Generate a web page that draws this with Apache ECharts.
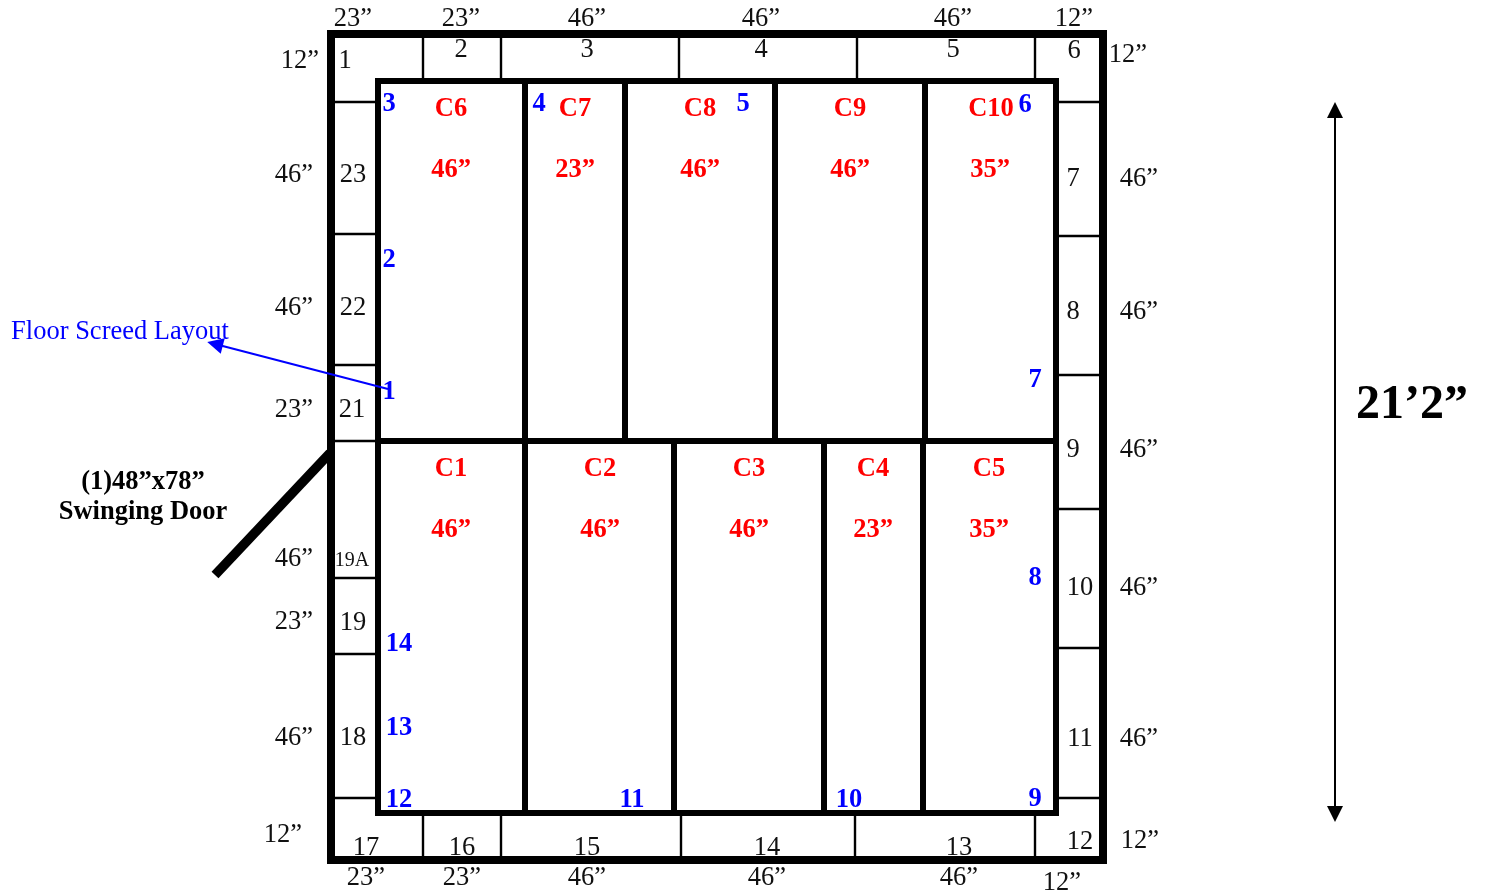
<!DOCTYPE html>
<html><head><meta charset="utf-8">
<style>html,body{margin:0;padding:0;background:#fff}#c{width:1486px;height:894px}</style>
<script src="https://cdn.jsdelivr.net/npm/echarts@6/dist/echarts.min.js"></script>
</head><body><div id="c"></div>
<script>
// Segments: [x1, y1, x2, y2] in plan units
const outerWall = [[327,34,1107,34],[327,860,1107,860],[331,30,331,864],[1103,30,1103,864]];
const innerWall = [[375,81,1059,81],[375,813,1059,813],[378,78,378,816],[1056,78,1056,816],[378,441,1056,441],
  [525,81,525,441],[625,81,625,441],[775,81,775,441],[925,81,925,441],
  [525,441,525,813],[674,441,674,813],[824,441,824,813],[923,441,923,813]];
const thinLines = [[423,38,423,78],[501,38,501,78],[679,38,679,78],[857,38,857,78],[1035,38,1035,78],
  [335,102,375,102],[335,234,375,234],[335,365,375,365],[335,441,375,441],[335,578,375,578],[335,654,375,654],[335,798,375,798],
  [1059,102,1099,102],[1059,236,1099,236],[1059,375,1099,375],[1059,509,1099,509],[1059,648,1099,648],[1059,798,1099,798],
  [423,816,423,856],[501,816,501,856],[681,816,681,856],[855,816,855,856],[1035,816,1035,856]];
const doorLeaf = [[330,453,215,575]];
const heightArrow = [[1335,110,1335,814]];
const leaderArrow = [[388,389,215,344]];
// Text: [label, x, y]
const dimLabels = [["23”",353,19],["23”",461,19],["46”",587,19],["46”",761,19],["46”",953,19],["12”",1074,19],
  ["12”",300,61],["46”",294,175],["46”",294,308],["23”",294,410],["46”",294,559],["23”",294,622],["46”",294,738],["12”",283,835],
  ["23”",366,878],["23”",462,878],["46”",587,878],["46”",767,878],["46”",959,878],["12”",1062,883],
  ["12”",1128,55],["46”",1139,179],["46”",1139,312],["46”",1139,450],["46”",1139,588],["46”",1139,739],["12”",1140,841]];
const panelNumbers = [["1",345,61],["2",461,50],["3",587,50],["4",761,50],["5",953,50],["6",1074,51],
  ["7",1073,179],["8",1073,312],["9",1073,450],["10",1080,588],["11",1080,739],["12",1080,842],
  ["13",959,848],["14",767,848],["15",587,848],["16",462,848],["17",366,848],
  ["18",353,738],["19",353,623],["21",352,410],["22",353,308],["23",353,175]];
const smallPanelNumbers = [["19A",352,561]];
const roomLabels = [["C6",451,109],["46”",451,170],["C7",575,109],["23”",575,170],["C8",700,109],["46”",700,170],
  ["C9",850,109],["46”",850,170],["C10",991,109],["35”",990,170],
  ["C1",451,469],["46”",451,530],["C2",600,469],["46”",600,530],["C3",749,469],["46”",749,530],
  ["C4",873,469],["23”",873,530],["C5",989,469],["35”",989,530]];
const screedPoints = [["3",389,104],["4",539,104],["5",743,104],["6",1025,105],["2",389,260],["1",389,392],["7",1035,380],
  ["8",1035,578],["9",1035,799],["10",849,800],["11",632,800],["12",399,800],["13",399,728],["14",399,644]];
const screedTitle = [["Floor Screed Layout",120,332]];
const doorLabels = [["(1)48”x78”",143,482],["Swinging Door",143,512]];
const heightLabel = [["21’2”",1412,406]];

const serif = '"Liberation Serif","Times New Roman",serif';
const seg = (name, rows, color, width, extra) => Object.assign({
  name, type:'lines', coordinateSystem:'cartesian2d', silent:true, animation:false,
  lineStyle:{color, width, opacity:1, curveness:0},
  data: rows.map(r => ({coords:[[r[0],r[1]],[r[2],r[3]]]}))
}, extra||{});
const txt = (name, rows, color, size, weight) => ({
  name, type:'scatter', coordinateSystem:'cartesian2d', silent:true, animation:false, symbolSize:0, z:5,
  itemStyle:{opacity:1},
  data: rows.map(r => ({value:[r[1],r[2]], text:r[0]})),
  label:{show:true, position:'inside', align:'center', verticalAlign:'middle', opacity:1,
    color, fontFamily:serif, fontSize:size, fontWeight:weight,
    formatter:p => p.data.text}
});
const chart = echarts.init(document.getElementById('c'), null, {renderer:'canvas'});
chart.setOption({
  backgroundColor:'#fff', animation:false,
  grid:{left:0,right:0,top:0,bottom:0},
  xAxis:{type:'value',min:0,max:1486,show:false},
  yAxis:{type:'value',min:0,max:894,inverse:true,show:false},
  series:[
    seg('thin',thinLines,'#000',2.4),
    seg('outer',outerWall,'#000',8),
    seg('inner',innerWall,'#000',6),
    seg('door',doorLeaf,'#000',9.5),
    seg('height',heightArrow,'#000',2,{symbol:['triangle','triangle'],symbolSize:[16,16]}),
    seg('leader',leaderArrow,'#0000ff',2,{symbol:['none','triangle'],symbolSize:[14,16],z:4}),
    txt('dims',dimLabels,'#111',26.5,'normal'),
    txt('panels',panelNumbers,'#111',26.5,'normal'),
    txt('smallPanels',smallPanelNumbers,'#111',20,'normal'),
    txt('rooms',roomLabels,'#ff0000',26.5,'bold'),
    txt('points',screedPoints,'#0000ff',26.5,'bold'),
    txt('title',screedTitle,'#0000ff',26.5,'normal'),
    txt('doorText',doorLabels,'#000',26.5,'bold'),
    txt('heightText',heightLabel,'#000',48,'bold')
  ]
});
</script></body></html>
